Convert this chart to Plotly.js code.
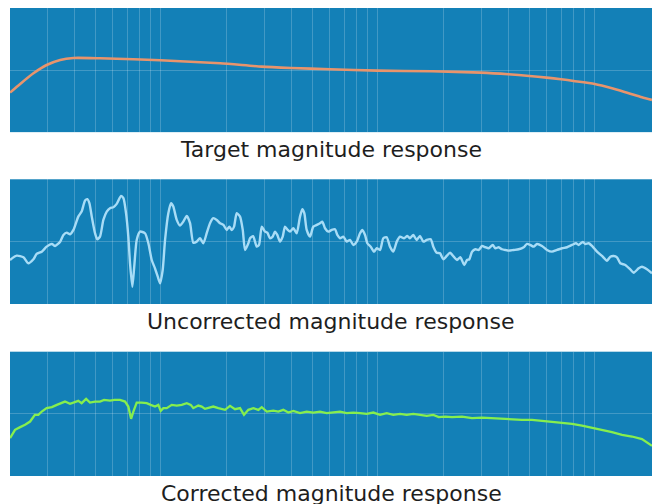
<!DOCTYPE html>
<html>
<head>
<meta charset="utf-8">
<script src="https://cdn.plot.ly/plotly-3.0.1.min.js"></script>
<style>html,body{margin:0;padding:0;background:#fff;}#chart{width:652px;height:504px;}</style>
</head>
<body>
<div id="chart"></div>
<script>
// ---- data (frequency in Hz, level in dB relative to panel centre) ----
const panelTitles = ["Target magnitude response", "Uncorrected magnitude response", "Corrected magnitude response"];

const gridFreqs = [20,30,40,50,60,70,80,90,100,200,300,400,500,600,700,800,900,1000,2000,3000,4000,5000,6000,7000,8000,9000,10000];

const targetFreq = [20.2,22.5,25.9,29.8,34.4,39.6,52.5,74.8,99.3,187.7,292,397,603,995,1779,2993,4000,5000,6000,7000,8000,10000,12016,14343,16517,18370];
const targetDb   = [-4.5,-2.76,-0.62,1.04,2.04,2.44,2.38,2.18,1.98,1.38,0.7,0.44,0.18,-0.1,-0.22,-0.5,-0.82,-1.16,-1.5,-1.82,-2.16,-2.76,-3.62,-4.62,-5.42,-5.96];

const uncFreq = [20.2,21.7,23.3,24.5,25.9,26.8,28.3,29.8,31.5,32.6,34.4,35.6,36.9,38.2,39.6,41.7,43.2,44.8,45.9,46.9,48.1,49.8,51.0,52.5,54.4,56.4,58.4,60.5,62.7,65.6,67.3,69.2,70.9,72.2,74.0,75.5,77.5,80.3,84.6,87.7,90.9,94.1,96.9,99.3,102.1,104.7,108.4,111.6,114.3,118.5,122.7,127.1,131.8,136.5,141.3,146.5,151.7,157.2,162.9,168.7,174.7,181.2,187.7,194.4,201.5,207.1,212.5,217.7,224.0,232.0,238.8,244.7,253.4,258.0,266.5,277.0,283.8,292.1,302.5,310.0,318.9,328.1,336.2,344.5,354.6,364.9,373.9,384.8,394.3,408.4,423.3,438.4,449.2,458.9,470.7,487.5,504.9,523.4,542.1,555.5,571.6,592.0,613.8,635.7,651.4,670.4,694.3,719.7,745.4,772.0,800.3,828.8,849.3,874.1,895.7,928.4,961.4,989.5,1025,1061,1100,1139,1180,1224,1267,1322,1369,1409,1459,1512,1566,1623,1682,1755,1804,1870,1937,2006,2080,2154,2240,2320,2403,2507,2580,2644,2721,2818,2921,3025,3133,3248,3388,3483,3611,3740,3873,4015,4233,4465,4708,4875,5049,5234,5421,5716,6028,6356,6703,7068,7454,7860,8200,8439,8806,9051,9384,9719,10247,10805,11394,11802,12236,12668,13120,13836,14589,15124,15949,16517,17418,18370];
const uncDb   = [-3.66,-2.8,-3.12,-4.32,-3.52,-2.46,-2.0,-1.0,-0.46,-0.86,0.0,1.34,1.8,1.48,2.34,5.0,6.0,8.2,8.48,7.68,5.0,1.68,0.48,1.0,4.34,6.0,6.68,6.88,7.54,9.14,8.68,5.68,1.0,-4.32,-9.0,-5.0,0.34,2.0,1.68,-0.32,-3.66,-5.32,-7.0,-8.32,-5.66,0.34,5.68,7.68,7.0,4.34,3.2,4.0,5.14,3.68,-0.2,0.0,0.68,-0.32,1.68,3.68,4.68,4.34,3.68,3.34,2.34,3.0,2.34,3.0,5.68,5.0,2.34,-1.66,-0.32,0.68,1.1,-1.0,-0.66,3.0,2.0,1.8,0.68,1.0,2.0,1.34,0.0,1.0,3.0,2.34,2.0,2.68,1.68,5.0,6.48,5.68,2.34,1.0,3.0,3.34,3.68,4.0,2.68,2.0,2.34,2.48,1.34,0.68,1.0,0.0,0.34,-0.66,0.0,1.68,2.34,1.34,-0.32,-1.0,-2.0,-1.32,-1.66,0.68,0.88,-1.0,-2.0,0.0,1.0,0.68,1.14,0.68,1.34,0.34,1.14,0.0,0.34,0.48,-1.0,-2.2,-2.32,-3.52,-2.86,-2.2,-3.0,-3.66,-3.12,-4.66,-3.66,-3.52,-2.0,-1.52,-1.66,-0.86,-1.12,-1.32,-0.66,-1.32,-1.12,-1.52,-1.66,-1.8,-1.66,-1.52,-1.12,-0.46,-0.66,-1.0,-0.46,-0.86,-1.66,-2.0,-1.66,-1.32,-1.12,-0.66,-0.32,-0.66,-0.06,-0.46,-0.32,-0.86,-2.0,-2.86,-3.8,-3.0,-2.86,-3.12,-4.32,-4.66,-5.52,-6.2,-5.32,-5.0,-5.52,-6.32];

const corFreq = [20.2,21.3,22.5,23.7,25.0,26.3,27.3,28.3,29.8,31.5,33.2,35.0,36.2,38.2,40.3,41.7,43.2,45.3,47.2,49.8,52.5,54.8,58.4,61.2,64.9,68.5,70.9,73.0,74.8,77.5,81.7,86.2,89.9,94.1,97.5,100,102.8,106.6,112.4,118.5,125.0,131.8,137.5,141.3,149.0,154.5,160.0,165.7,174.7,184.3,197.9,208.6,220.0,232.0,242.0,253.4,267.2,281.8,292.1,308.0,330.3,348.3,367.3,387.3,408.4,438.4,470.7,504.9,542.1,582.1,624.3,670.4,719.7,772.0,828.8,889.9,954.4,1025,1100,1180,1267,1360,1459,1566,1682,1804,1911,2049,2200,2446,2721,3025,3363,3740,4159,4624,5141,5716,6356,7068,7860,8740,9719,10805,12016,13361,14854,16517,17418,18370];
const corDb   = [-4.86,-3.2,-2.66,-2.2,-1.54,-0.2,-0.2,0.46,1.14,1.34,1.8,2.14,2.46,2.0,2.34,2.6,2.14,3.0,2.26,2.46,2.46,2.8,2.66,2.8,2.8,2.46,1.46,-1.0,0.46,2.26,2.26,2.14,1.8,1.46,1.8,0.6,1.14,1.14,1.8,1.66,1.8,2.14,1.8,1.14,1.66,1.46,1.0,1.14,1.46,1.14,0.8,1.6,0.94,1.14,-0.2,0.8,1.14,0.8,1.34,0.46,0.66,0.46,0.8,0.26,0.6,0.14,0.46,0.26,0.46,0.14,0.26,0.46,0.14,0.26,0.14,0.0,0.26,-0.2,0.14,-0.2,0.0,-0.2,0.0,-0.2,-0.4,-0.2,-0.66,-0.54,-0.66,-0.54,-0.86,-0.74,-0.86,-1.0,-1.06,-1.2,-1.2,-1.4,-1.54,-1.74,-2.0,-2.34,-2.74,-3.2,-3.66,-4.2,-4.54,-5.06,-5.74,-6.4];

// ---- style ----
const bg = '#1380b7';
const gridCol = 'rgba(255,255,255,0.2)';
const colors = ['#e8946c', '#a8dcf6', '#86ee4e'];
const widths = [2.6, 2.4, 2.3];
const xRange = [Math.log10(20.2), Math.log10(18370)];
const yRange = [-12.45, 12.45];
const domains = [[0.7344, 1.0], [0.3675, 0.634], [0.0, 0.2656]];

const series = [[targetFreq, targetDb], [uncFreq, uncDb], [corFreq, corDb]];
const traces = series.map((s, i) => ({
  x: s[0], y: s[1], type: 'scatter', mode: 'lines',
  xaxis: i === 0 ? 'x' : 'x' + (i + 1), yaxis: i === 0 ? 'y' : 'y' + (i + 1),
  line: {color: colors[i], width: widths[i], shape: i === 2 ? 'linear' : 'spline', smoothing: 0.6},
  hoverinfo: 'skip', showlegend: false
}));

const layout = {
  width: 652, height: 504,
  margin: {l: 10, r: 0, t: 8, b: 28},
  paper_bgcolor: '#ffffff', plot_bgcolor: bg,
  showlegend: false,
  annotations: []
};
for (let i = 0; i < 3; i++) {
  const sx = i === 0 ? '' : String(i + 1);
  layout['xaxis' + sx] = {
    type: 'log', range: xRange, anchor: 'y' + sx,
    tickmode: 'array', tickvals: gridFreqs, showticklabels: false, ticks: '',
    showgrid: true, gridcolor: gridCol, gridwidth: 1, zeroline: false,
    showline: true, linecolor: 'rgba(255,255,255,0.55)', linewidth: 1, fixedrange: true
  };
  layout['yaxis' + sx] = {
    range: yRange, domain: domains[i], anchor: 'x' + sx,
    tickmode: 'array', tickvals: [0], showticklabels: false, ticks: '',
    showgrid: true, gridcolor: gridCol, gridwidth: 1, zeroline: false,
    showline: false, fixedrange: true
  };
  layout.annotations.push({
    text: panelTitles[i], xref: 'paper', yref: 'paper',
    x: 0.5, y: domains[i][0], xanchor: 'center', yanchor: 'top', yshift: -3,
    showarrow: false, font: {family: 'DejaVu Sans', size: 22, color: '#1e1e1e'}
  });
}

Plotly.newPlot('chart', traces, layout, {staticPlot: true, displayModeBar: false});
</script>
</body>
</html>
